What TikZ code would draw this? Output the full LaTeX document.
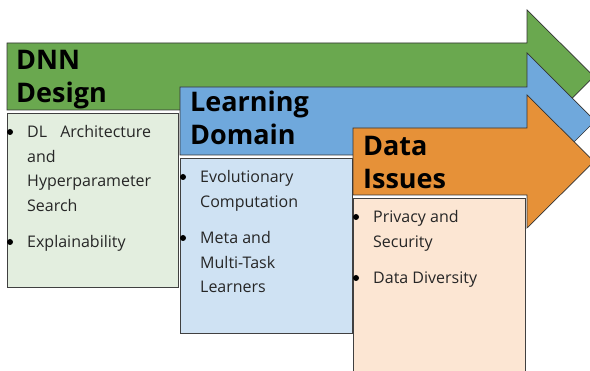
\documentclass[tikz,border=0pt]{standalone}
\usepackage{fontspec}
\setmainfont{Open Sans}
\definecolor{dnngreen}{HTML}{6AA84F}
\definecolor{lrnblue}{HTML}{6FA8DC}
\definecolor{dataorange}{HTML}{E69138}
\definecolor{lightgreen}{HTML}{E3EEDF}
\definecolor{lightblue}{HTML}{CFE2F3}
\definecolor{lightorange}{HTML}{FCE6D3}
\begin{document}
\begin{tikzpicture}[x=1pt,y=-1pt,
  arrowshape/.style={draw=black!80, line width=0.7pt, line join=miter},
  panel/.style={draw=black!75, line width=0.8pt},
  head/.style={font=\bfseries\fontsize{27}{33}\selectfont, anchor=base west, inner sep=0pt, align=left, text=black},
  item/.style={font=\fontsize{16}{24.5}\selectfont, anchor=base west, inner sep=0pt, align=left, text=black!85},
  dot/.style={circle, fill=black, inner sep=0pt, minimum size=6pt}]
\clip (0,0) rectangle (590,371);
\fill[white] (0,0) rectangle (590,371);
% green arrow and panel
\draw[arrowshape, fill=dnngreen] (7,43) -- (527,43) -- (527,10) -- (594,76.5) -- (527,143) -- (527,110) -- (7,110) -- cycle;
\draw[panel, fill=lightgreen] (7,113) rectangle (178,287);
\node[head] (dnn) at (16,103) {DNN\\Design};
\node[dot] (g1) at (10,132) {};
\node[item] (dl) at (27,211.5) {DL\hspace{9pt} Architecture\\and\\Hyperparameter\\Search};
\node[dot] (g2) at (10,242) {};
\node[item] (expl) at (27,248) {Explainability};
% blue arrow and panel
\draw[arrowshape, fill=lrnblue] (180,87) -- (527,87) -- (527,53) -- (595,121) -- (527,189) -- (527,155) -- (180,155) -- cycle;
\draw[panel, fill=lightblue] (180,158) rectangle (352,333);
\node[head] (lrn) at (190,145) {Learning\\Domain};
\node[dot] (b1) at (183,177) {};
\node[item] (evo) at (200,207.5) {Evolutionary\\Computation};
\node[dot] (b2) at (183,238) {};
\node[item] (meta) at (200,293) {Meta and\\Multi-Task\\Learners};
% orange arrow and panel
\draw[arrowshape, fill=dataorange] (353,128) -- (527,128) -- (527,95) -- (594,161.5) -- (527,228) -- (527,195) -- (353,195) -- cycle;
\draw[panel, fill=lightorange] (353,198) rectangle (525,380);
\node[head] (data) at (363,189) {Data\\Issues};
\node[dot] (o1) at (356,217) {};
\node[item] (priv) at (373,247.5) {Privacy and\\Security};
\node[dot] (o2) at (356,278) {};
\node[item] (div) at (373,284) {Data Diversity};
\end{tikzpicture}
\end{document}
